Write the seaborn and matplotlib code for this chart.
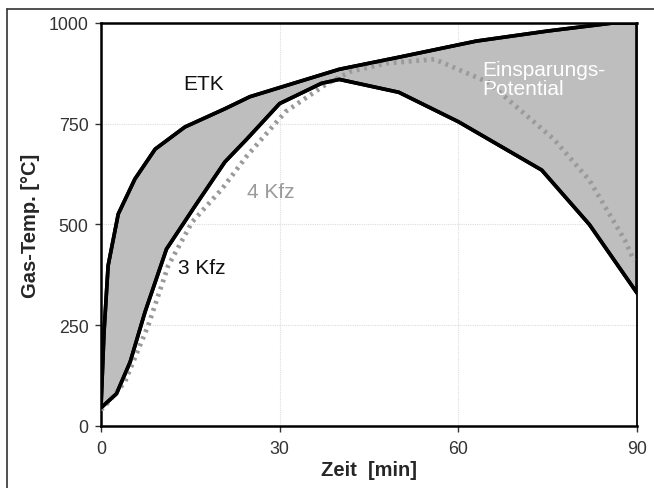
import matplotlib
matplotlib.use("Agg")
import matplotlib.pyplot as plt
from matplotlib.lines import Line2D
import numpy as np
import pandas as pd
import seaborn as sns

# Gas temperature over time (minutes)
etk_t = [0, 0.5, 1.2, 2.9, 5.7, 9.1, 14.1, 20.8, 25, 40, 50, 63, 75, 86, 90]
etk_T = [45, 230, 398, 526, 613, 687, 742, 787, 817, 885, 915, 955, 980, 1000, 1000]

kfz3_t = [0, 2.6, 4.9, 7.4, 11, 15.8, 20.8, 24.5, 30, 37, 40, 50, 60, 74, 82, 90]
kfz3_T = [45, 80, 159, 283, 439, 546, 655, 712, 800, 850, 860, 828, 755, 635, 500, 330]

kfz4_t = [0, 0.7, 4, 7.9, 11.3, 15.3, 20.3, 24.5, 31, 38, 42, 48, 56, 65, 76, 82, 88, 89.5]
kfz4_T = [40, 50, 109, 248, 398, 506, 588, 670, 780, 850, 880, 900, 910, 853, 712, 610, 460, 410]

x_ticks = [0, 30, 60, 90]
y_ticks = [0, 250, 500, 750, 1000]

sns.set_theme(style="white")
plt.rcParams["font.family"] = ["Liberation Sans", "DejaVu Sans"]

fig = plt.figure(figsize=(6.54, 4.89), dpi=100)
ax = fig.add_axes([0.1544, 0.1268, 0.8196, 0.8242])

# shaded saving potential between ETK and 3 Kfz
poly_x = etk_t + kfz3_t[::-1]
poly_y = etk_T + kfz3_T[::-1]
ax.fill(poly_x, poly_y, facecolor="#bebebe", edgecolor="black", lw=2.6, zorder=2, joinstyle="miter")

df_etk = pd.DataFrame({"t": etk_t, "T": etk_T})
df_3 = pd.DataFrame({"t": kfz3_t, "T": kfz3_T})
df_4 = pd.DataFrame({"t": kfz4_t, "T": kfz4_T})

sns.lineplot(data=df_4, x="t", y="T", ax=ax, color="#9a9a9a", lw=3.4,
             linestyle=(0, (0.6, 1.0)), sort=False, zorder=3)
sns.lineplot(data=df_etk, x="t", y="T", ax=ax, color="black", lw=2.6, sort=False, zorder=4)
sns.lineplot(data=df_3, x="t", y="T", ax=ax, color="black", lw=2.6, sort=False, zorder=4)

ax.set_xlim(0, 90)
ax.set_ylim(0, 1000)
ax.set_xticks(x_ticks)
ax.set_yticks(y_ticks)
ax.grid(True, color="#dddddd", lw=0.8, linestyle=(0, (1, 1)))
ax.set_axisbelow(True)

for side in ["left", "bottom", "top"]:
    ax.spines[side].set_color("black")
    ax.spines[side].set_linewidth(1.8)
ax.spines["right"].set_color("black")
ax.spines["right"].set_linewidth(1.3)

ax.tick_params(axis="both", labelsize=12.8, colors="#333333", length=4, width=1,
               direction="out", pad=6, left=True, bottom=True)
ax.tick_params(axis="y", pad=5)

ax.set_xlabel("Zeit  [min]", fontsize=14.5, fontweight="bold", labelpad=2)
ax.set_ylabel("Gas-Temp. [°C]", fontsize=14.5, fontweight="bold", labelpad=6)

ax.text(13.8, 850, "ETK", fontsize=15, color="#111111", ha="left", va="center", zorder=5)
ax.text(24.5, 583, "4 Kfz", fontsize=15, color="#9a9a9a", ha="left", va="center", zorder=5)
ax.text(12.9, 393, "3 Kfz", fontsize=15, color="#111111", ha="left", va="center", zorder=5)
ax.text(64.0, 908, "Einsparungs-\nPotential", fontsize=15, color="white", ha="left", va="top",
        linespacing=1.0, zorder=5)

# outer frame lines (left and top)
fig.add_artist(Line2D([7 / 654, 7 / 654], [1 - 10 / 489, 0], color="#333333", lw=1.2))
fig.add_artist(Line2D([7 / 654, 1], [1 - 10 / 489, 1 - 10 / 489], color="#333333", lw=1.2))

fig.savefig("out.png", dpi=100)
